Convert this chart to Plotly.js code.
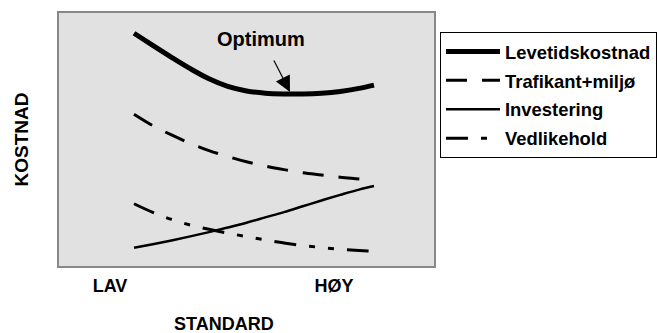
<!DOCTYPE html>
<html>
<head>
<meta charset="utf-8">
<script src="https://cdn.plot.ly/plotly-3.0.1.min.js"></script>
<style>html,body{margin:0;padding:0;background:#fff;}#chart{width:657px;height:333px;}</style>
</head>
<body>
<div id="chart"></div>
<script>
// Standard (x) positions, relative scale 0..100
const standard = [20, 25, 30, 35, 40, 45, 50, 55, 60, 65, 70, 75, 80, 84];
// Cost curves (relative scale 0..100)
const levetidskostnad = [92, 87.2, 82.5, 78, 74, 71, 69.2, 68.3, 68, 68, 68.3, 69, 70.2, 71.5];
const trafikantMiljo = [60, 55.5, 51.8, 48.5, 45.6, 43.3, 41.2, 39.5, 38.1, 36.9, 36, 35.1, 34.4, 33.8];
const investering = [7.2, 8.6, 10.1, 11.7, 13.4, 15.2, 17.1, 19.2, 21.3, 23.6, 25.9, 28.1, 30.2, 31.6];
const vedlikehold = [24.6, 21.2, 18.4, 16.2, 14.5, 13, 11.6, 10.3, 9.1, 8.1, 7.3, 6.6, 6.1, 5.8];
const seriesNames = ['Levetidskostnad', 'Trafikant+miljø', 'Investering', 'Vedlikehold'];
// Axis tick labels
const tickLabels = ['LAV', 'HØY'];
const tickValues = [13.6, 73.3];
// Optimum point (minimum of total cost) and label
const optimumX = 61.6, optimumY = 68.8;

const F = 'Liberation Sans, Arial, sans-serif';
const font = {family: F, size: 18, color: '#000', weight: 'bold'};

const traces = [
  {x: standard, y: levetidskostnad, name: seriesNames[0], legendgroup: 'a',
   line: {color: '#000', width: 5, shape: 'spline'}},
  {x: standard, y: trafikantMiljo, name: seriesNames[1], legendgroup: 'b',
   line: {color: '#000', width: 3, shape: 'spline', dash: '21px,15px'}},
  {x: standard, y: investering, name: seriesNames[2], legendgroup: 'c',
   line: {color: '#000', width: 2.5, shape: 'spline'}},
  {x: standard, y: vedlikehold, name: seriesNames[3], legendgroup: 'd',
   line: {color: '#000', width: 3, shape: 'spline', dash: '22px,13px,6px,13px,6px,13px'}}
].map(t => Object.assign({type: 'scatter', mode: 'lines', hoverinfo: 'skip'}, t));

const layout = {
  width: 657, height: 333,
  margin: {l: 59, r: 223, t: 13, b: 67, autoexpand: false},
  paper_bgcolor: '#fff', plot_bgcolor: '#e1e1e1',
  font: font,
  showlegend: true,
  legend: {x: 1.016, xanchor: 'left', y: 0.925, yanchor: 'top',
           bordercolor: '#000', borderwidth: 1, bgcolor: '#fff',
           font: Object.assign({}, font, {size: 18.4}), itemwidth: 54, tracegroupgap: 2,
           traceorder: 'grouped', entrywidth: 230},
  xaxis: {range: [0, 100], showgrid: false, zeroline: false,
          showline: true, mirror: true, linecolor: '#888', linewidth: 2,
          tickvals: tickValues, ticktext: tickLabels, ticks: 'outside', ticklen: 2,
          tickcolor: 'rgba(0,0,0,0)', tickfont: font},
  yaxis: {range: [0, 100], showgrid: false, zeroline: false,
          showline: true, mirror: true, linecolor: '#888', linewidth: 2,
          showticklabels: false, ticks: ''},
  annotations: [
    {xref: 'paper', yref: 'paper', x: 0.44, y: -0.229, xanchor: 'center', yanchor: 'middle',
     text: 'STANDARD', showarrow: false, font: font},
    {xref: 'paper', yref: 'paper', x: -0.0987, y: 0.5, xanchor: 'center', yanchor: 'middle',
     text: 'KOSTNAD', textangle: -90, showarrow: false, font: Object.assign({}, font, {size: 19})},
    {x: 53.9, y: 89.7, text: 'Optimum', showarrow: false, font: Object.assign({}, font, {size: 20})},
    {x: optimumX, y: optimumY, ax: 57.1, ay: 81.8, axref: 'x', ayref: 'y', text: '',
     showarrow: true, arrowhead: 2, arrowsize: 2.6, arrowwidth: 1.2, arrowcolor: '#000'}
  ]
};

Plotly.newPlot('chart', traces, layout, {staticPlot: true});
</script>
</body>
</html>
